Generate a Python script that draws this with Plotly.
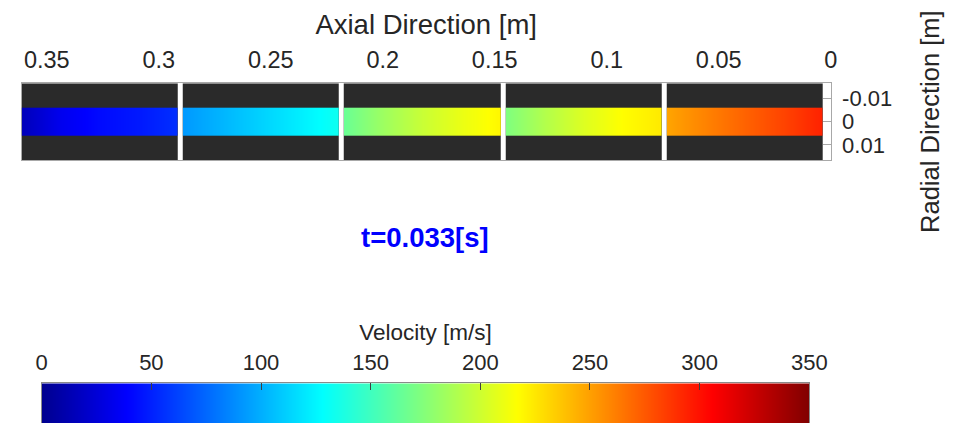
import plotly.graph_objects as go

# ---------------- data ----------------
# pipe segments (axial coordinate, m)
seg_lo = [0.0036, 0.0754, 0.1473, 0.2195, 0.2915]
seg_hi = [0.0732, 0.1451, 0.2173, 0.2893, 0.3612]
# velocity samples [m/s], evenly spaced along each segment from its low-x end to its high-x end
vel_seg1 = [294, 282, 271, 260, 248]   # 0.0036 - 0.0732
vel_seg2 = [224, 217, 205, 190, 172]   # 0.0754 - 0.1451
vel_seg3 = [220, 210, 198, 183, 165]   # 0.1473 - 0.2173
vel_seg4 = [133, 122, 112, 102, 92]    # 0.2195 - 0.2893
vel_seg5 = [55, 47, 42, 33, 15]        # 0.2915 - 0.3612
velocities = [vel_seg1, vel_seg2, vel_seg3, vel_seg4, vel_seg5]
flow_radius = 0.006
wall_radius = 0.0165
x_min, x_max = 0.0, 0.3612
x_ticks = [0, 0.05, 0.1, 0.15, 0.2, 0.25, 0.3, 0.35]
x_ticktext = ["0", "0.05", "0.1", "0.15", "0.2", "0.25", "0.3", "0.35"]
y_ticks = [-0.01, 0, 0.01]
y_ticktext = ["-0.01", "0", "0.01"]
v_min, v_max = 0, 350
cbar_ticks = [0, 50, 100, 150, 200, 250, 300, 350]
time_label = "t=0.033[s]"

JET = [[0.0, "rgb(0,0,143)"], [0.11, "rgb(0,0,255)"], [0.365, "rgb(0,255,255)"],
       [0.619, "rgb(255,255,0)"], [0.873, "rgb(255,0,0)"], [1.0, "rgb(128,0,0)"]]
WALL = "#2a2a2a"
TXT = "#262626"
AXL = "#a8a8a8"
FONT = "Liberation Sans, Arial, sans-serif"

OFF = 8                       # page body margin
W, H = 962 - OFF, 423 - OFF
PX_L, PX_R = 21.7 - OFF, 830.7 - OFF     # main plot box, pixels in figure
PY_T, PY_B = 83.3 - OFF, 160.0 - OFF
CB_L, CB_R, CB_T = 41.7 - OFF, 809.3 - OFF, 383.3 - OFF


def xfrac(x):
    """paper fraction of an axial coordinate on the (reversed) main axis."""
    return (PX_L + (x_max - x) / (x_max - x_min) * (PX_R - PX_L)) / W


fig = go.Figure()

# pipe walls: one cell per segment, gaps left empty
wall_x, wall_z = [], []
for i, (lo, hi) in enumerate(zip(seg_lo, seg_hi)):
    wall_x += [lo, hi]
    wall_z.append(1)
    if i < len(seg_lo) - 1:
        wall_z.append(None)
fig.add_trace(go.Heatmap(
    x=wall_x, y=[-wall_radius, wall_radius], z=[wall_z],
    colorscale=[[0, WALL], [1, WALL]], showscale=False, hoverinfo="skip",
    xaxis="x", yaxis="y"))

layout_axes = {}
# flow velocity: each segment on its own hidden x axis so the smooth image is clipped to it
for k, (lo, hi, vals) in enumerate(zip(seg_lo, seg_hi, velocities)):
    n = len(vals)
    xs = [lo + j * (hi - lo) / (n - 1) for j in range(n)]
    ax = k + 3
    fig.add_trace(go.Heatmap(
        x=xs, y=[-flow_radius, 0, flow_radius], z=[vals, vals],
        zsmooth="best", colorscale=JET, zmin=v_min, zmax=v_max,
        showscale=False, xaxis=f"x{ax}", yaxis="y"))
    layout_axes[f"xaxis{ax}"] = dict(
        domain=[xfrac(hi), xfrac(lo)], range=[hi, lo], visible=False,
        anchor="y", automargin=False, showgrid=False, zeroline=False)

# colour bar drawn as its own heatmap
fig.add_trace(go.Heatmap(
    x=[v_min, v_max], y=[0, 1], z=[[v_min, v_max], [v_min, v_max]],
    zsmooth="best", colorscale=JET, zmin=v_min, zmax=v_max, showscale=False,
    hoverinfo="skip", xaxis="x2", yaxis="y2"))

fig.update_layout(
    width=W, height=H, margin=dict(l=0, r=0, t=0, b=0, pad=0),
    paper_bgcolor="white", plot_bgcolor="rgba(0,0,0,0)", showlegend=False,
    font=dict(family=FONT, color=TXT, size=23),
    xaxis=dict(
        domain=[PX_L / W, PX_R / W], range=[x_max, x_min], side="top",
        tickvals=x_ticks, ticktext=x_ticktext, ticks="", showgrid=False,
        zeroline=False, showline=True, mirror=True, linecolor=AXL, linewidth=1,
        tickfont=dict(size=23.5), ticklabelstandoff=5, automargin=False,
        title=dict(text="Axial Direction [m]", font=dict(size=27.5), standoff=4),
        anchor="y"),
    yaxis=dict(
        domain=[1 - PY_B / H, 1 - PY_T / H], range=[wall_radius, -wall_radius],
        side="right", tickvals=y_ticks, ticktext=y_ticktext, ticks="inside",
        ticklen=8, tickcolor=AXL, showgrid=False, zeroline=False,
        showline=True, mirror=True, linecolor=AXL, linewidth=1,
        tickfont=dict(size=22), ticklabelstandoff=6, automargin=False,
        title=dict(text="Radial Direction [m]", font=dict(size=25.5), standoff=29),
        anchor="x"),
    xaxis2=dict(
        domain=[CB_L / W, CB_R / W], range=[v_min, v_max], side="top",
        tickvals=cbar_ticks, ticks="inside", ticklen=7, tickcolor="#404040",
        showgrid=False, zeroline=False, showline=True, linecolor="#8a8a8a",
        tickfont=dict(size=22), automargin=False, ticklabelstandoff=4,
        title=dict(text="Velocity [m/s]", font=dict(size=22.5), standoff=2),
        anchor="y2"),
    yaxis2=dict(
        domain=[0, 1 - CB_T / H], range=[0, 1], showticklabels=False, ticks="",
        showgrid=False, zeroline=False, showline=True, mirror=True,
        linecolor="#8a8a8a", anchor="x2", automargin=False),
    annotations=[dict(
        text="<b>" + time_label + "</b>", x=(425 - OFF) / W, y=1 - (237 - OFF) / H,
        xref="paper", yref="paper", showarrow=False, xanchor="center",
        yanchor="middle", font=dict(size=27.5, color="#0000ff", family=FONT))],
    **layout_axes,
)

fig.write_html("out.html")
